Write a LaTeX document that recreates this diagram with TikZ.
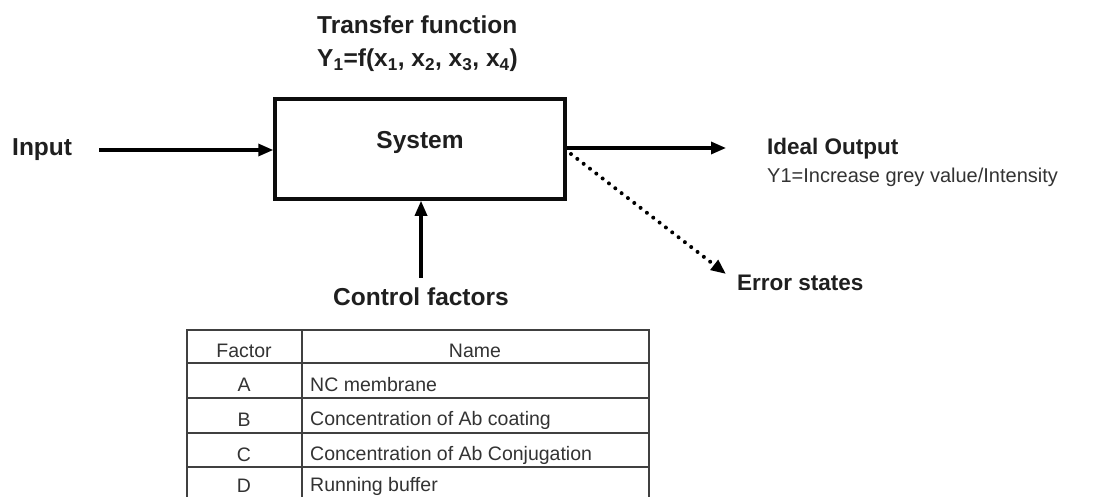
\documentclass[tikz,border=0pt]{standalone}
\usepackage{fontspec}
\setmainfont{Liberation Sans}
\usetikzlibrary{arrows.meta}
\tikzset{
  lbl/.style={inner sep=0pt, text=black!88, font=\bfseries\fontsize{24.5}{29}\selectfont},
  lblsm/.style={inner sep=0pt, text=black!88, font=\bfseries\fontsize{22.5}{27}\selectfont},
  sub/.style={inner sep=0pt, text=black!80, font=\fontsize{20}{24}\selectfont},
  tbl/.style={inner sep=0pt, text=black!80, font=\fontsize{19.5}{23}\selectfont},
  arr/.style={line width=3.2pt, -{Triangle[length=15pt,width=12pt]}},
  dotarr/.style={line width=4pt, line cap=round, dash pattern=on 0pt off 8pt, -{Triangle[length=15pt,width=12pt]}},
  boxst/.style={draw=black!95, line width=3.5pt, minimum width=290pt, minimum height=100pt, inner sep=0pt},
  grid/.style={draw=black!75, line width=1.8pt},
}
\begin{document}
\begin{tikzpicture}[x=1pt,y=-1pt]
\useasboundingbox (0,0) rectangle (1107,497);
\fill[white] (0,0) rectangle (1107,497);
% title
\node[lbl, anchor=west] (tf) at (317,25) {Transfer function};
\node[lbl, anchor=west] (tf2) at (317,60) {Y\textsubscript{1}=f(x\textsubscript{1}, x\textsubscript{2}, x\textsubscript{3}, x\textsubscript{4})};
% system box
\node[boxst] (sys) at (420,149) {};
\node[lbl] (systxt) at (420,142) {System};
% input
\node[lbl, anchor=west] (input) at (12,150) {Input};
\draw[arr, shorten <=27pt] (input.east) -- (input.east -| sys.west);
% output
\coordinate (outend) at (726,148);
\draw[arr] (outend -| sys.east) -- (outend);
\node[lblsm, anchor=west] (ideal) at (767,149) {Ideal Output};
\node[sub, anchor=west] (idealsub) at (767,177) {Y1=Increase grey value/Intensity};
% error
\coordinate (errstart) at (571,154);
\coordinate (errend) at (726,274);
\draw[dotarr] (errstart) -- (errend);
\node[lblsm, anchor=west] (err) at (737,283) {Error states};
% control
\node[lbl] (ctrl) at (421,297) {Control factors};
\draw[arr, shorten <=10pt] (ctrl.north -| 421,0) -- (sys.south -| 421,0);
% table
\begin{scope}
\clip (0,0) rectangle (1107,497);
\draw[grid] (187,330) rectangle (649,520);
\draw[grid] (302,330) -- (302,520);
\foreach \yy in {363,398,433,467} \draw[grid] (187,\yy) -- (649,\yy);
\end{scope}
\node[tbl] (hf) at (244,351) {Factor};
\node[tbl] (hn) at (475,351) {Name};
\node[tbl] (fa) at (244,385) {A};
\node[tbl, anchor=west] (na) at (310,385) {NC membrane};
\node[tbl] (fb) at (244,420) {B};
\node[tbl, anchor=west] (nb) at (310,420) {Concentration of Ab coating};
\node[tbl] (fc) at (244,455) {C};
\node[tbl, anchor=west] (nc) at (310,455) {Concentration of Ab Conjugation};
\node[tbl] (fd) at (244,486) {D};
\node[tbl, anchor=west] (nd) at (310,486) {Running buffer};
\end{tikzpicture}
\end{document}
